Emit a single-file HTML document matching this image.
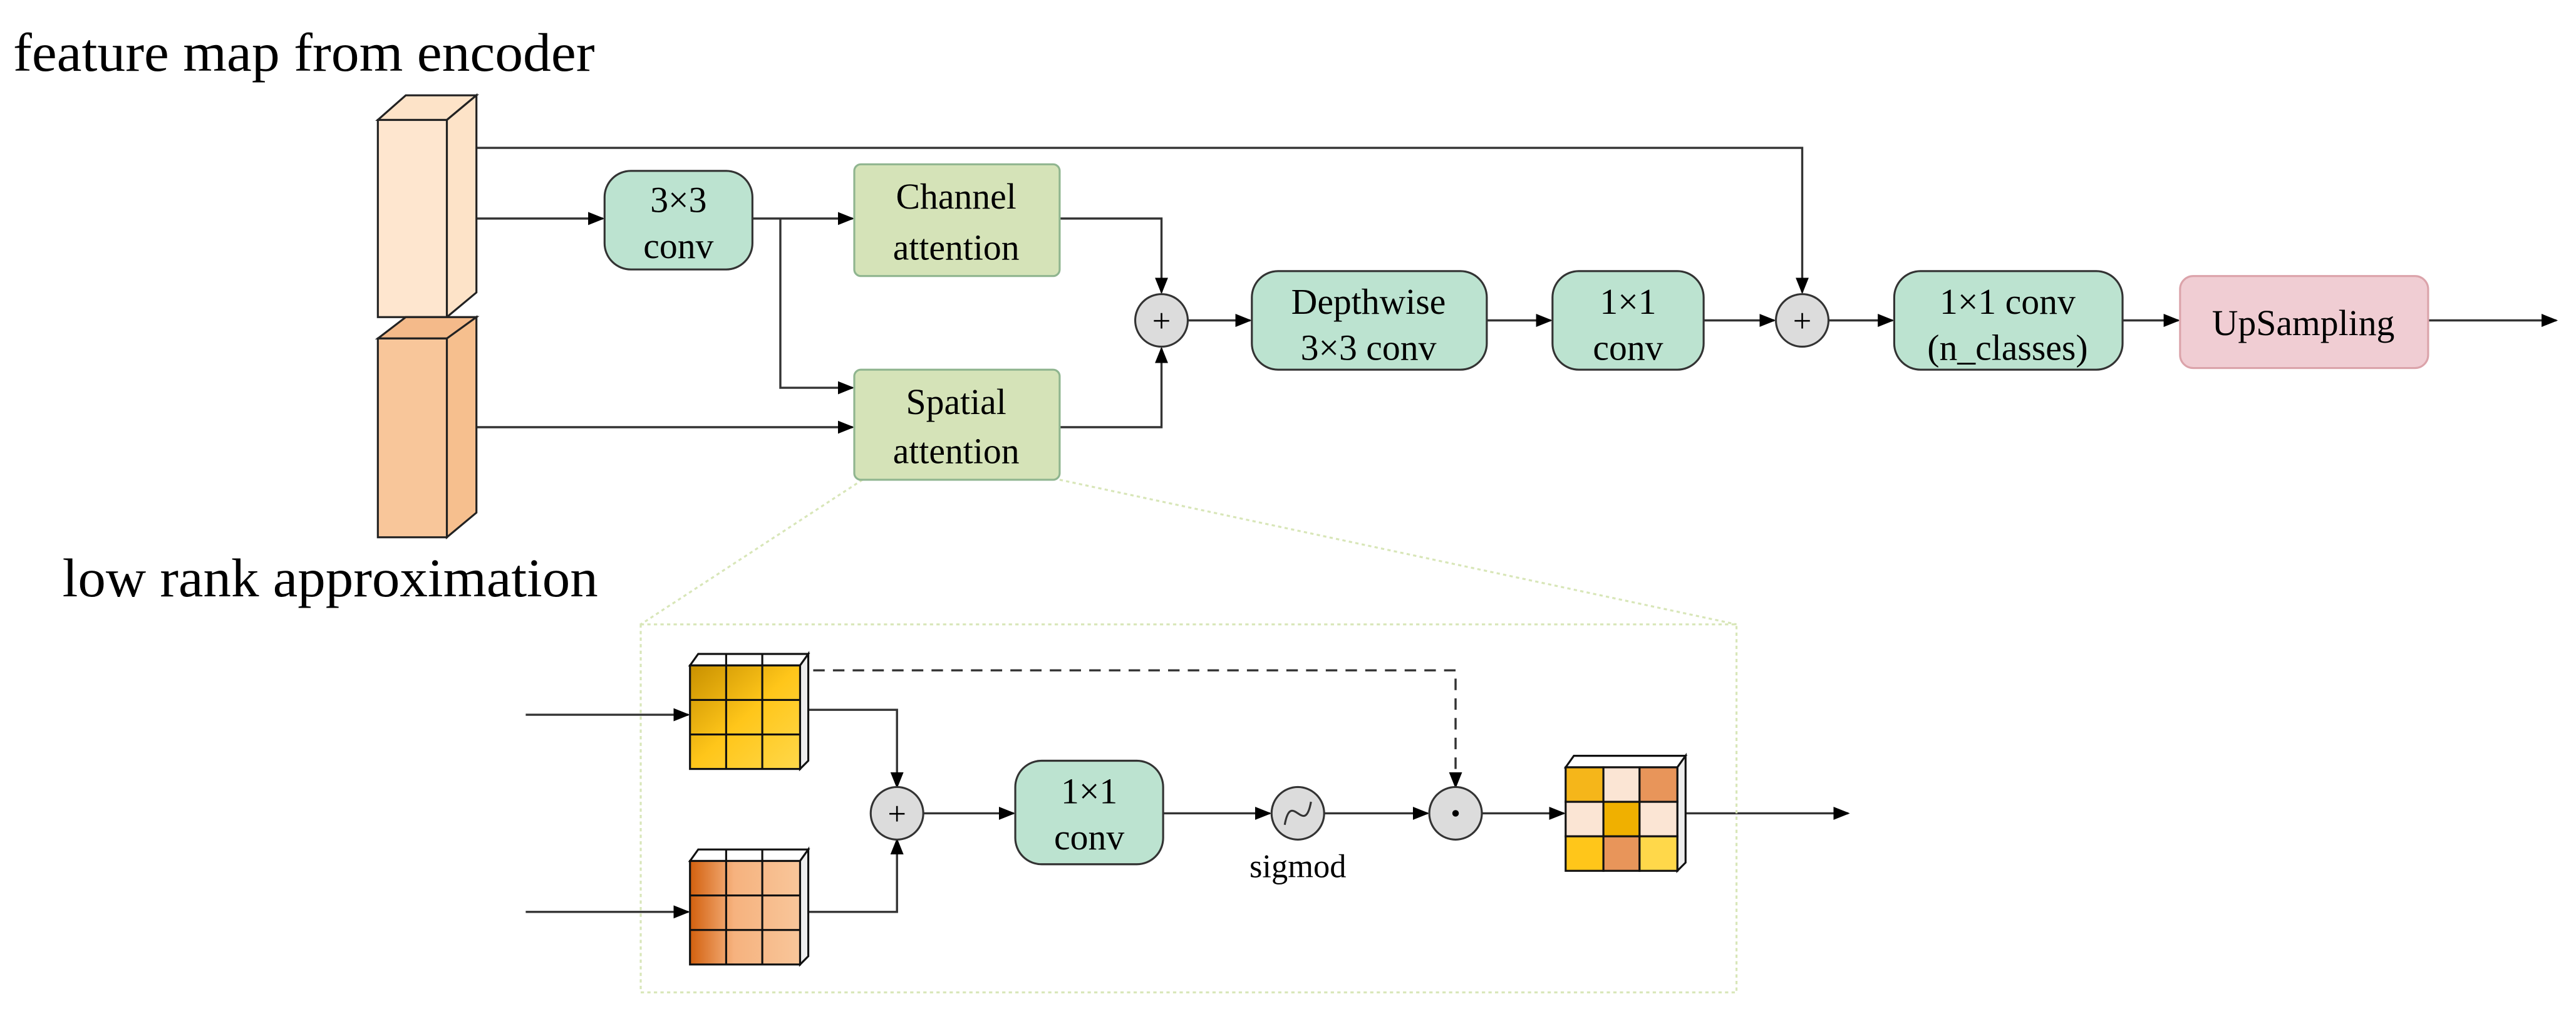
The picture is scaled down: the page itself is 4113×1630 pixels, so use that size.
<!DOCTYPE html>
<html><head><meta charset="utf-8"><style>
html,body{margin:0;padding:0;background:#fff}
svg{display:block}
text{font-family:"Liberation Serif","Times New Roman",serif;fill:#000}
</style></head><body>
<svg width="4113" height="1630" viewBox="0 0 1568 621.4" preserveAspectRatio="none" xmlns="http://www.w3.org/2000/svg" font-family="Liberation Serif, serif">
<defs>
<marker id="a" markerWidth="10" markerHeight="10" refX="9" refY="5" orient="auto" markerUnits="userSpaceOnUse"><path d="M0,1 L10,5 L0,9 z" fill="#000"/></marker>
<linearGradient id="y1" x1="0" y1="0" x2="1" y2="1"><stop offset="0" stop-color="#c89000"/><stop offset="0.5" stop-color="#ffc61a"/><stop offset="1" stop-color="#ffd84a"/></linearGradient>
<linearGradient id="o1" x1="0" y1="0" x2="1" y2="0"><stop offset="0" stop-color="#d2600e"/><stop offset="0.4" stop-color="#f6b27e"/><stop offset="1" stop-color="#f8c69a"/></linearGradient>
</defs>
<g stroke="#333" stroke-width="1.3" fill="none">
<polyline points="290,90 1097,90 1097,178" marker-end="url(#a)"/>
<line x1="290" y1="133" x2="367" y2="133" marker-end="url(#a)"/>
<line x1="458" y1="133" x2="519" y2="133" marker-end="url(#a)"/>
<polyline points="475,133 475,236 519,236" marker-end="url(#a)"/>
<line x1="290" y1="260" x2="519" y2="260" marker-end="url(#a)"/>
<polyline points="645,133 707,133 707,178" marker-end="url(#a)"/>
<polyline points="645,260 707,260 707,212" marker-end="url(#a)"/>
<line x1="723" y1="195" x2="761" y2="195" marker-end="url(#a)"/>
<line x1="905" y1="195" x2="944" y2="195" marker-end="url(#a)"/>
<line x1="1037" y1="195" x2="1080" y2="195" marker-end="url(#a)"/>
<line x1="1113" y1="195" x2="1152" y2="195" marker-end="url(#a)"/>
<line x1="1292" y1="195" x2="1326" y2="195" marker-end="url(#a)"/>
<line x1="1478" y1="195" x2="1556" y2="195" marker-end="url(#a)"/>
<line x1="320" y1="435" x2="419" y2="435" marker-end="url(#a)"/>
<line x1="320" y1="555" x2="419" y2="555" marker-end="url(#a)"/>
<polyline points="490,432 546,432 546,479" marker-end="url(#a)"/>
<polyline points="490,555 546,555 546,511" marker-end="url(#a)"/>
<line x1="562" y1="495" x2="617" y2="495" marker-end="url(#a)"/>
<line x1="708" y1="495" x2="773" y2="495" marker-end="url(#a)"/>
<line x1="806" y1="495" x2="869" y2="495" marker-end="url(#a)"/>
<line x1="902" y1="495" x2="952" y2="495" marker-end="url(#a)"/>
<line x1="1026" y1="495" x2="1125" y2="495" marker-end="url(#a)"/>
<polyline points="495,408 886,408 886,479" stroke-dasharray="7,5" marker-end="url(#a)"/>
</g>
<g stroke="#d8e6b8" stroke-width="1.2" fill="none" stroke-dasharray="2,2">
<line x1="525" y1="292" x2="390" y2="380"/>
<line x1="645" y1="292" x2="1057" y2="380"/>
<rect x="390" y="380" width="667" height="224"/>
</g>
<g stroke="#222" stroke-width="1.2">
<polygon points="230,73 247,58 290,58 272,73" fill="#fde3c8"/>
<polygon points="272,73 290,58 290,178 272,193" fill="#fde3c8"/>
<rect x="230" y="73" width="42" height="120" fill="#fee6cf"/>
<polygon points="230,206 247,193 290,193 272,206" fill="#f4ba8a"/>
<polygon points="272,206 290,193 290,312 272,327" fill="#f6bf8e"/>
<rect x="230" y="206" width="42" height="121" fill="#f8c69a"/>
</g>
<text x="8" y="43" font-size="33" textLength="354" lengthAdjust="spacingAndGlyphs">feature map from encoder</text>
<text x="38" y="363" font-size="33" textLength="326" lengthAdjust="spacingAndGlyphs">low rank approximation</text>
<g stroke="#333" stroke-width="1.2">
<rect x="368" y="104" width="90" height="60" rx="16" fill="#bce3d0"/>
<rect x="520" y="100" width="125" height="68" rx="4" fill="#d5e3b8" stroke="#8fb58f"/>
<rect x="520" y="225" width="125" height="67" rx="4" fill="#d5e3b8" stroke="#8fb58f"/>
<rect x="762" y="165" width="143" height="60" rx="16" fill="#bce3d0"/>
<rect x="945" y="165" width="92" height="60" rx="16" fill="#bce3d0"/>
<rect x="1153" y="165" width="139" height="60" rx="16" fill="#bce3d0"/>
<rect x="1327" y="168" width="151" height="56" rx="8" fill="#f0cdd3" stroke="#dba3aa"/>
<circle cx="707" cy="195" r="16" fill="#dcdcdc"/>
<circle cx="1097" cy="195" r="16" fill="#dcdcdc"/>
<rect x="618" y="463" width="90" height="63" rx="16" fill="#bce3d0"/>
<circle cx="546" cy="495" r="16" fill="#dcdcdc"/>
<circle cx="790" cy="495" r="16" fill="#dcdcdc"/>
<circle cx="886" cy="495" r="16" fill="#dcdcdc"/>
</g>
<path d="M782,502 C786,480 794,510 798,488" stroke="#333" stroke-width="1.2" fill="none"/>
<circle cx="886" cy="495" r="2" fill="#000"/>
<g font-size="22" text-anchor="middle">
<text x="413" y="129">3×3</text><text x="413" y="157">conv</text>
<text x="582" y="127">Channel</text><text x="582" y="158">attention</text>
<text x="582" y="252">Spatial</text><text x="582" y="282">attention</text>
<text x="833" y="191">Depthwise</text><text x="833" y="219">3×3 conv</text>
<text x="991" y="191">1×1</text><text x="991" y="219">conv</text>
<text x="1222" y="191">1×1 conv</text><text x="1222" y="219">(n_classes)</text>
<text x="1402" y="204">UpSampling</text>
<text x="663" y="489">1×1</text><text x="663" y="517">conv</text>
<text x="707" y="202" font-size="20">+</text><text x="1097" y="202" font-size="20">+</text><text x="546" y="502" font-size="20">+</text>
<text x="790" y="534" font-size="20">sigmod</text>
</g>
<g stroke="#111" stroke-width="1.2">
<polygon points="420,405 425,398 492,398 487,405" fill="#fff"/>
<polygon points="487,405 492,398 492,463 487,468" fill="#eee"/>
<rect x="420" y="405" width="67" height="63" fill="url(#y1)"/>
<line x1="442" y1="398" x2="442" y2="468"/><line x1="464" y1="398" x2="464" y2="468"/>
<line x1="420" y1="426" x2="487" y2="426"/><line x1="420" y1="447" x2="487" y2="447"/>
<polygon points="420,524 425,517 492,517 487,524" fill="#fff"/>
<polygon points="487,524 492,517 492,582 487,587" fill="#eee"/>
<rect x="420" y="524" width="67" height="63" fill="url(#o1)"/>
<line x1="442" y1="517" x2="442" y2="587"/><line x1="464" y1="517" x2="464" y2="587"/>
<line x1="420" y1="545" x2="487" y2="545"/><line x1="420" y1="566" x2="487" y2="566"/>
<polygon points="953,467 958,460 1026,460 1021,467" fill="#fff"/>
<polygon points="1021,467 1026,460 1026,525 1021,530" fill="#eee"/>
<rect x="953" y="467" width="23" height="21" fill="#f5b61a"/>
<rect x="976" y="467" width="22" height="21" fill="#fbe5d4"/>
<rect x="998" y="467" width="23" height="21" fill="#e8955a"/>
<rect x="953" y="488" width="23" height="21" fill="#fbe5d4"/>
<rect x="976" y="488" width="22" height="21" fill="#f0b000"/>
<rect x="998" y="488" width="23" height="21" fill="#fbe5d4"/>
<rect x="953" y="509" width="23" height="21" fill="#ffc61a"/>
<rect x="976" y="509" width="22" height="21" fill="#e8955a"/>
<rect x="998" y="509" width="23" height="21" fill="#ffd84a"/>
</g>
</svg>
</body></html>
